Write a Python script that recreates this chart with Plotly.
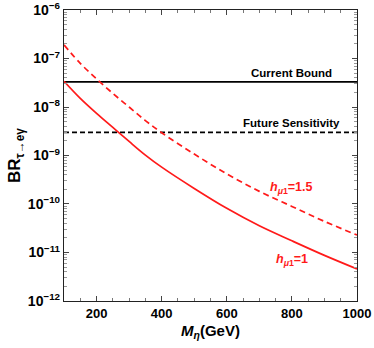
import math
import plotly.graph_objects as go

# ---- data ----
m_eta = [100, 150, 200, 250, 300, 350, 400, 500, 600, 700, 800, 900, 1000]
br_h1 = [3.4e-8, 1.51e-8, 7.41e-9, 3.80e-9, 1.95e-9, 1.02e-9, 5.75e-10,
         2.09e-10, 8.13e-11, 3.55e-11, 1.74e-11, 8.71e-12, 4.57e-12]
br_h15 = [1.91e-7, 7.94e-8, 3.80e-8, 1.91e-8, 1.0e-8, 5.25e-9, 2.95e-9,
          1.07e-9, 4.17e-10, 1.82e-10, 8.91e-11, 4.37e-11, 2.29e-11]
current_bound = 3.3e-8
future_sensitivity = 3.0e-9
x_range = [100, 1000]
x_ticks = [200, 400, 600, 800, 1000]
y_exps = [-6, -7, -8, -9, -10, -11, -12]

FONT = "Liberation Sans, Arial, sans-serif"
RED = "#ff1a1a"

fig = go.Figure()
fig.add_trace(go.Scatter(x=x_range, y=[current_bound] * 2, mode="lines",
                         line=dict(color="black", width=1.6), showlegend=False))
fig.add_trace(go.Scatter(x=x_range, y=[future_sensitivity] * 2, mode="lines",
                         line=dict(color="black", width=1.6, dash="5px,3px"), showlegend=False))
fig.add_trace(go.Scatter(x=m_eta, y=br_h15, mode="lines",
                         line=dict(color=RED, width=1.7, dash="6px,4px", shape="spline"),
                         showlegend=False))
fig.add_trace(go.Scatter(x=m_eta, y=br_h1, mode="lines",
                         line=dict(color=RED, width=1.7, shape="spline"), showlegend=False))

for yv, txt in [(current_bound, "<b>Current Bound</b>"),
                (future_sensitivity, "<b>Future Sensitivity</b>")]:
    fig.add_annotation(x=800, y=math.log10(yv), text=txt, showarrow=False, yshift=9,
                       font=dict(family=FONT, size=11.5, color="black"))
fig.add_annotation(x=800, y=-9.68, text="<b><i>h</i><sub><i>μ</i>1</sub>=1.5</b>",
                   showarrow=False, font=dict(family=FONT, size=12.5, color=RED))
fig.add_annotation(x=800, y=-11.16, text="<b><i>h</i><sub><i>μ</i>1</sub>=1</b>",
                   showarrow=False, font=dict(family=FONT, size=12.5, color=RED))

fig.update_layout(
    width=374, height=348,
    margin=dict(l=64, r=17, t=10, b=47),
    paper_bgcolor="white", plot_bgcolor="white",
    font=dict(family=FONT, color="black"),
)
fig.update_xaxes(
    range=x_range, showgrid=False, zeroline=False, automargin=False,
    showline=True, linecolor="#222", linewidth=1.3, mirror="ticks",
    ticks="inside", ticklen=5, tickcolor="#444", tickwidth=1,
    tickvals=x_ticks, ticktext=[f"<b>{v}</b>" for v in x_ticks],
    tickfont=dict(family=FONT, size=13),
    minor=dict(ticks="inside", dtick=50, ticklen=3, tickcolor="#777", showgrid=False),
    title=dict(text="<b><i>M</i><sub><i>η</i></sub>(GeV)</b>", font=dict(family=FONT, size=15),
               standoff=5),
)
fig.update_yaxes(
    type="log", range=[-12.001, -5.999], showgrid=False, zeroline=False, automargin=False,
    showline=True, linecolor="#222", linewidth=1.3, mirror="ticks",
    ticks="inside", ticklen=5, tickcolor="#444", tickwidth=1,
    tickvals=[10.0 ** e for e in y_exps],
    ticktext=[f"<b>10<sup>\u2212{-e}</sup></b>" for e in y_exps],
    tickfont=dict(family=FONT, size=14),
    ticklabeloverflow="allow",
    minor=dict(ticks="inside", ticklen=3, tickcolor="#999", dtick="D1", showgrid=False),
    title=dict(text="<b>BR<sub>τ→eγ</sub></b>", font=dict(family=FONT, size=17), standoff=2),
)

fig.write_html("out.html", config={"displayModeBar": False},
               post_script="document.body.style.margin='0';")
